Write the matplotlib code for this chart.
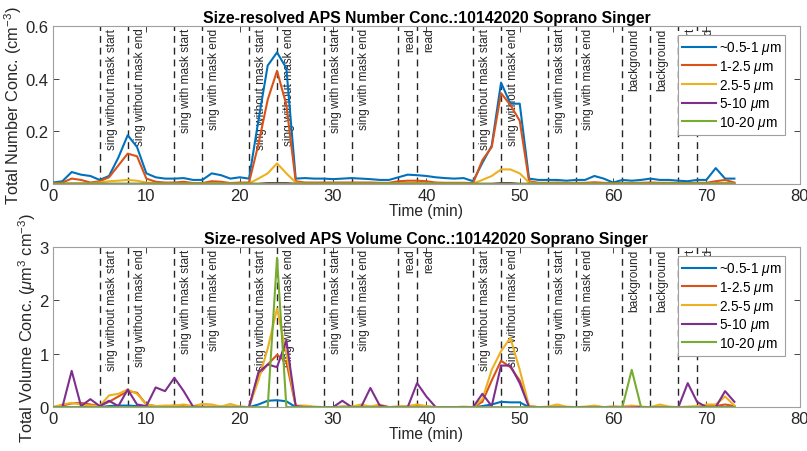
import numpy as np
import matplotlib
matplotlib.use("Agg")
import matplotlib.pyplot as plt
import matplotlib.transforms as mtransforms

plt.rcParams['font.family'] = ['Liberation Sans', 'DejaVu Sans']
plt.rcParams['mathtext.fontset'] = 'custom'
plt.rcParams['mathtext.rm'] = 'Liberation Sans'
plt.rcParams['mathtext.it'] = 'Liberation Sans:italic'

time_min = list(range(0, 74))

series_labels = ['~0.5-1 $\\mu$m', '1-2.5 $\\mu$m', '2.5-5 $\\mu$m', '5-10 $\\mu$m', '10-20 $\\mu$m']
colors = ['#0072BD', '#D95319', '#EDB120', '#7E2F8E', '#77AC30']

num_05_1 = [0.005, 0.01, 0.045, 0.035, 0.03, 0.015, 0.03, 0.1, 0.185, 0.14,
            0.04, 0.025, 0.02, 0.02, 0.022, 0.015, 0.015, 0.04, 0.033, 0.02,
            0.025, 0.02, 0.24, 0.45, 0.5, 0.44, 0.02, 0.022, 0.02, 0.02,
            0.018, 0.02, 0.022, 0.02, 0.018, 0.015, 0.015, 0.025, 0.035, 0.033,
            0.03, 0.025, 0.022, 0.02, 0.022, 0.01, 0.08, 0.145, 0.385, 0.305,
            0.305, 0.02, 0.015, 0.015, 0.015, 0.012, 0.015, 0.015, 0.03, 0.02,
            0.005, 0.015, 0.012, 0.015, 0.02, 0.015, 0.015, 0.012, 0.01, 0.015,
            0.015, 0.06, 0.02, 0.02]
num_1_25 = [0.002, 0.005, 0.02, 0.015, 0.005, 0.01, 0.025, 0.07, 0.115, 0.105,
            0.02, 0.008, 0.005, 0.005, 0.008, 0.003, 0.003, 0.01, 0.008, 0.003,
            0.005, 0.005, 0.15, 0.32, 0.43, 0.3, 0.01, 0.005, 0.005, 0.005,
            0.005, 0.005, 0.005, 0.005, 0.005, 0.004, 0.004, 0.01, 0.012, 0.012,
            0.01, 0.005, 0.004, 0.004, 0.004, 0.003, 0.09, 0.14, 0.345, 0.3,
            0.24, 0.01, 0.004, 0.004, 0.005, 0.003, 0.004, 0.004, 0.006, 0.004,
            0.002, 0.004, 0.003, 0.004, 0.005, 0.004, 0.004, 0.003, 0.003, 0.004,
            0.004, 0.01, 0.015, 0.005]
num_25_5 = [0.001, 0.001, 0.002, 0.002, 0.002, 0.005, 0.01, 0.012, 0.015, 0.012,
            0.005, 0.002, 0.002, 0.002, 0.002, 0.002, 0.002, 0.003, 0.002, 0.002,
            0.002, 0.002, 0.02, 0.04, 0.078, 0.04, 0.005, 0.002, 0.002, 0.002,
            0.002, 0.002, 0.002, 0.002, 0.002, 0.002, 0.002, 0.002, 0.003, 0.003,
            0.002, 0.002, 0.002, 0.002, 0.002, 0.001, 0.015, 0.03, 0.055, 0.055,
            0.04, 0.005, 0.002, 0.002, 0.002, 0.002, 0.002, 0.002, 0.002, 0.002,
            0.001, 0.002, 0.002, 0.002, 0.002, 0.002, 0.002, 0.002, 0.002, 0.002,
            0.002, 0.003, 0.004, 0.002]
num_5_10 = [0.0005] * 23 + [0.003, 0.003, 0.003] + [0.0005] * 22 + [0.003, 0.003] + [0.0005] * 24
num_10_20 = [0.0] * 74

vol_05_1 = [0.0] * 6 + [0.02, 0.03, 0.03, 0.02] + [0.0] * 12 + [0.05, 0.12, 0.13, 0.11] + [0.0] * 20 + \
           [0.02, 0.05, 0.1, 0.09, 0.09] + [0.0] * 23
vol_1_25 = [0.0, 0.03, 0.07, 0.08, 0.05, 0.02, 0.1, 0.2, 0.3, 0.27,
            0.05, 0.02, 0.01, 0.03, 0.02, 0.01, 0.01, 0.01, 0.01, 0.01,
            0.01, 0.0, 0.6, 0.8, 0.98, 0.85, 0.02, 0.01, 0.0, 0.0,
            0.0, 0.01, 0.01, 0.01, 0.01, 0.01, 0.0, 0.01, 0.01, 0.02,
            0.01, 0.0, 0.0, 0.0, 0.0, 0.0, 0.1, 0.5, 0.87, 0.75,
            0.5, 0.02, 0.0, 0.0, 0.01, 0.0, 0.0, 0.0, 0.01, 0.0,
            0.01, 0.0, 0.02, 0.0, 0.0, 0.01, 0.0, 0.0, 0.0, 0.0,
            0.02, 0.02, 0.05, 0.02]
vol_25_5 = [0.0, 0.05, 0.08, 0.05, 0.03, 0.02, 0.22, 0.25, 0.33, 0.25,
            0.05, 0.02, 0.03, 0.03, 0.05, 0.02, 0.06, 0.05, 0.01, 0.06,
            0.01, 0.0, 0.5, 1.1, 1.85, 1.0, 0.03, 0.03, 0.01, 0.0,
            0.0, 0.01, 0.01, 0.05, 0.01, 0.05, 0.0, 0.01, 0.02, 0.05,
            0.02, 0.0, 0.0, 0.0, 0.01, 0.0, 0.15, 0.7, 1.05, 1.3,
            0.7, 0.02, 0.0, 0.01, 0.05, 0.01, 0.0, 0.01, 0.03, 0.0,
            0.01, 0.01, 0.03, 0.01, 0.0, 0.05, 0.01, 0.0, 0.01, 0.02,
            0.05, 0.05, 0.2, 0.03]
vol_5_10 = [0.0, 0.0, 0.68, 0.02, 0.15, 0.02, 0.12, 0.02, 0.33, 0.05,
            0.02, 0.37, 0.3, 0.55, 0.3, 0.01, 0.0, 0.0, 0.0, 0.0,
            0.0, 0.0, 0.65, 0.8, 0.75, 1.25, 0.02, 0.0, 0.0, 0.0,
            0.0, 0.12, 0.0, 0.0, 0.36, 0.03, 0.0, 0.0, 0.0, 0.45,
            0.2, 0.0, 0.0, 0.0, 0.0, 0.0, 0.25, 0.02, 0.78, 0.78,
            0.45, 0.0, 0.0, 0.0, 0.0, 0.0, 0.0, 0.0, 0.0, 0.0,
            0.0, -0.01, -0.01, 0.0, 0.0, 0.0, 0.0, 0.0, 0.45, 0.1,
            0.0, 0.0, 0.3, 0.1]
vol_10_20 = [0.0] * 24 + [2.8] + [0.0] * 37 + [0.7] + [0.0] * 11

event_times = [5, 8, 13, 16, 21, 24, 29, 32, 37, 39, 45, 48, 53, 56, 61, 64, 67, 69]
event_labels = ['sing without mask start', 'sing without mask end',
                'sing with mask start', 'sing with mask end',
                'sing without mask start', 'sing without mask end',
                'sing with mask start', 'sing with mask end',
                'read', 'read',
                'sing without mask start', 'sing without mask end',
                'sing with mask start', 'sing with mask end',
                'background', 'background',
                'sing with mask start', 'sing with mask end']

x_ticks = [0, 10, 20, 30, 40, 50, 60, 70, 80]

fig = plt.figure(figsize=(8.07, 4.52), dpi=100)
ax1 = fig.add_axes([0.0657, 0.591, 0.9253, 0.349])
ax2 = fig.add_axes([0.0657, 0.097, 0.9253, 0.354])

gray = '#262626'

def style(ax, yticks, ylim, title, ylabel):
    ax.set_xlim(0, 80)
    ax.set_ylim(*ylim)
    ax.set_xticks(x_ticks)
    ax.set_yticks(yticks)
    ax.tick_params(direction='in', top=True, right=True, labelsize=12, colors=gray,
                   length=4, width=0.6, pad=3)
    for s in ax.spines.values():
        s.set_color('#a0a0a0')
        s.set_linewidth(0.8)
    ax.set_title(title, fontsize=11.3, fontweight='bold', pad=3)
    ax.set_ylabel(ylabel, fontsize=11.8, color=gray, labelpad=1)
    ax.set_xlabel('Time (min)', fontsize=11.2, color=gray, labelpad=0)

def draw(ax, series):
    trans = mtransforms.blended_transform_factory(ax.transData, ax.transAxes)
    for xv, lab in zip(event_times, event_labels):
        ax.axvline(xv, color=gray, linestyle=(0, (5, 3.5)), linewidth=1.0, zorder=1)
        ax.text(xv + 1.3, 0.99, lab, rotation=90, ha='center', va='top',
                fontsize=8.6, color=gray, transform=trans, zorder=2)
    for ys, c, lab in zip(series, colors, series_labels):
        ax.plot(time_min, ys, color=c, linewidth=1.5, label=lab, zorder=3)
    leg = ax.legend(loc='upper right', fontsize=9.8, fancybox=False, framealpha=1,
                    edgecolor='#a0a0a0', borderaxespad=0.5, handlelength=2.5,
                    handletextpad=0.2, labelspacing=0.12, borderpad=0.3,
                    bbox_to_anchor=(0.99, 0.985))
    leg.set_zorder(5)
    leg.get_frame().set_linewidth(0.8)

draw(ax1, [num_05_1, num_1_25, num_25_5, num_5_10, num_10_20])
style(ax1, [0, 0.2, 0.4, 0.6], (0, 0.6),
      'Size-resolved APS Number Conc.:10142020 Soprano Singer',
      'Total Number Conc. (cm$^{-3}$)')
ax1.set_yticklabels(['0', '0.2', '0.4', '0.6'])

draw(ax2, [vol_05_1, vol_1_25, vol_25_5, vol_5_10, vol_10_20])
style(ax2, [0, 1, 2, 3], (0, 3),
      'Size-resolved APS Volume Conc.:10142020 Soprano Singer',
      'Total Volume Conc. ($\\mu$m$^3$ cm$^{-3}$)')

fig.savefig('out.png', dpi=100)
